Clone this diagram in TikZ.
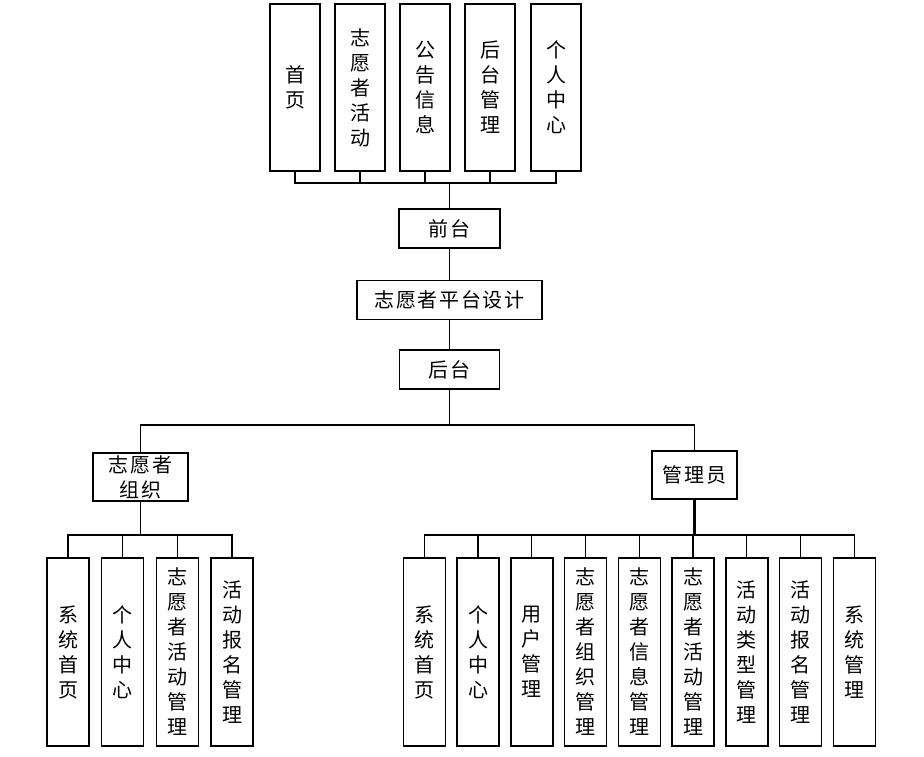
\documentclass[tikz,border=0pt]{standalone}
\usepackage{fontspec}
\newfontfamily\cjk{Noto Sans CJK SC}
\newfontfamily\cjkwide{Noto Sans CJK SC}[LetterSpace=8]
\begin{document}
\begin{tikzpicture}[x=1pt,y=-1pt,
  box/.style={draw=black, line width=1.6pt, fill=white, inner sep=0pt, align=center,
    font=\cjk\fontsize{20}{25}\selectfont},
  widebox/.style={box, font=\cjkwide\fontsize{20}{25}\selectfont},
  topbox/.style={box, minimum width=50pt, minimum height=167pt},
  hbox/.style={widebox, minimum height=39pt},
  leafbox/.style={box, minimum width=42pt, minimum height=188pt},
  conn/.style={draw=black, line width=1.3pt}]
\useasboundingbox (0,0) rectangle (924,756);
% top level
\node[topbox] (t1) at (295,87.5) {首\\页};
\node[topbox] (t2) at (360,87.5) {志\\愿\\者\\活\\动};
\node[topbox] (t3) at (425,87.5) {公\\告\\信\\息};
\node[topbox] (t4) at (490,87.5) {后\\台\\管\\理};
\node[topbox] (t5) at (556,87.5) {个\\人\\中\\心};
\node[hbox, minimum width=101pt] (qt) at (449.5,228.5) {前台};
\node[hbox, minimum width=185pt] (pt) at (449.5,300) {志愿者平台设计};
\node[hbox, minimum width=100pt] (ht) at (449.5,369.5) {后台};
\node[widebox, minimum width=95pt, minimum height=48pt] (zz) at (140.5,477) {志愿者\\组织};
\node[widebox, minimum width=85pt, minimum height=48pt] (gl) at (694.5,475) {管理员};
% left leaves
\node[leafbox] (l1) at (68,652) {系\\统\\首\\页};
\node[leafbox] (l2) at (122.5,652) {个\\人\\中\\心};
\node[leafbox] (l3) at (177.5,652) {志\\愿\\者\\活\\动\\管\\理};
\node[leafbox] (l4) at (232,652) {活\\动\\报\\名\\管\\理};
% right leaves
\node[leafbox] (r1) at (424.3,652) {系\\统\\首\\页};
\node[leafbox] (r2) at (478.1,652) {个\\人\\中\\心};
\node[leafbox] (r3) at (531.8,652) {用\\户\\管\\理};
\node[leafbox] (r4) at (585.6,652) {志\\愿\\者\\组\\织\\管\\理};
\node[leafbox] (r5) at (639.3,652) {志\\愿\\者\\信\\息\\管\\理};
\node[leafbox] (r6) at (693.1,652) {志\\愿\\者\\活\\动\\管\\理};
\node[leafbox] (r7) at (746.8,652) {活\\动\\类\\型\\管\\理};
\node[leafbox] (r8) at (800.6,652) {活\\动\\报\\名\\管\\理};
\node[leafbox] (r9) at (854.3,652) {系\\统\\管\\理};
% bus coordinates
\coordinate (bt) at (449.5,183);
\coordinate (bm) at (449.5,425);
\coordinate (bl) at (140.5,535);
\coordinate (br) at (694.5,535);
% connectors
\foreach \n in {t1,t2,t3,t4,t5} \draw[conn] (\n.south) |- (bt);
\draw[conn] (bt) -- (qt.north);
\draw[conn] (qt.south) -- (pt.north);
\draw[conn] (pt.south) -- (ht.north);
\draw[conn] (ht.south) -- (bm);
\draw[conn] (zz.north) |- (bm);
\draw[conn] (gl.north) |- (bm);
\draw[conn] (zz.south) -- (bl);
\draw[conn, line width=2.4pt] (gl.south) -- (br);
\foreach \n in {l1,l2,l3,l4} \draw[conn] (\n.north) |- (bl);
\foreach \n in {r1,r2,r3,r4,r5,r6,r7,r8,r9} \draw[conn] (\n.north) |- (br);
\end{tikzpicture}
\end{document}
